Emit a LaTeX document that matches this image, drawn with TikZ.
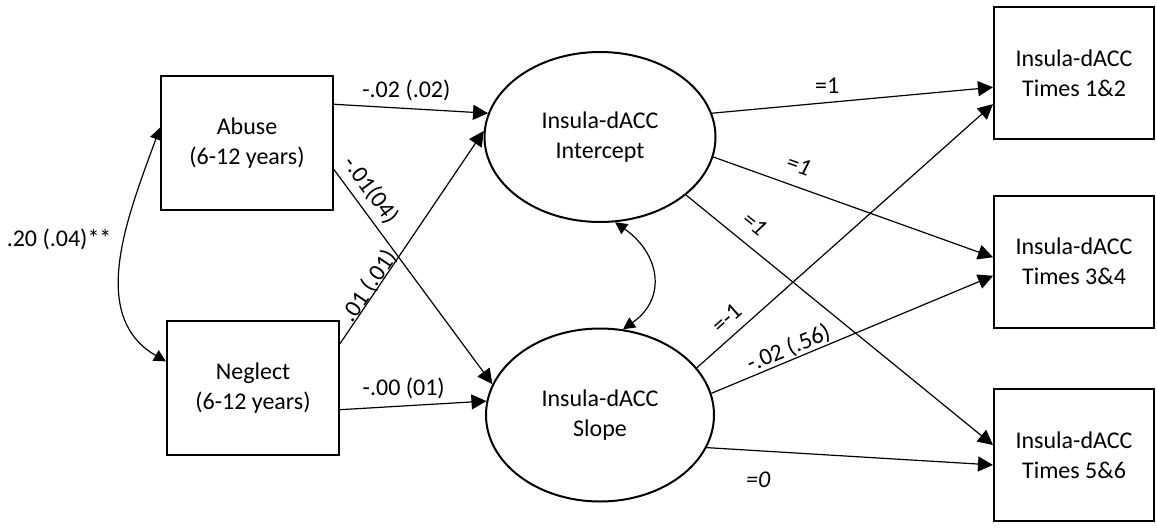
\documentclass[tikz,border=0pt]{standalone}
\usepackage{fontspec}
\setmainfont{Carlito}
\usetikzlibrary{shapes.geometric,arrows.meta}

\tikzset{
	obs/.style={draw, line width=1pt, align=center, minimum width=86pt, minimum height=67pt},
	occ/.style={draw, line width=1pt, align=center, minimum width=80pt, minimum height=66pt},
	lat/.style={draw, ellipse, line width=1pt, align=center, inner sep=0pt},
	reg/.style={->, line width=0.6pt},
	cov/.style={<->, line width=0.6pt, >={Triangle[length=6pt,width=6pt]}}
}

\begin{document}
\begin{tikzpicture}[x=0.5pt, y=0.5pt, font=\fontsize{12}{15}\selectfont, >={Triangle[length=7.5pt,width=7.5pt]}]
	\useasboundingbox (0,0) rectangle (1157,527);
	\node[obs] (abuse) at (247,384) {Abuse\\(6-12 years)};
	\node[obs] (neglect) at (253,139) {Neglect\\(6-12 years)};
	\node[lat, minimum width=115.5pt, minimum height=85pt] (intercept) at (600,390) {Insula-dACC\\Intercept};
	\node[lat, minimum width=114pt, minimum height=86.5pt] (slope) at (600,112) {Insula-dACC\\Slope};
	\node[occ] (t12) at (1074,454) {Insula-dACC\\Times 1\&2};
	\node[occ] (t34) at (1074,265.5) {Insula-dACC\\Times 3\&4};
	\node[occ] (t56) at (1074,72) {Insula-dACC\\Times 5\&6};
	\draw[cov] (abuse.170) to[out=250, in=150] node[pos=0.42, left=3pt] {.20 (.04)**} (neglect.163);
	\draw[cov] (intercept.280) to[out=-35, in=35, looseness=1.3] (slope.75);
	\draw[reg] (abuse.24) -- node[pos=0.47, above] {-.02 (.02)} (intercept.168);
	\draw[reg] (abuse.-17) -- node[pos=0.145, sloped, above] {-.01(04)} (slope.164);
	\draw[reg] (neglect.27) -- node[pos=0.25, sloped, above=-5pt] {.01 (.01)} (intercept.177);
	\draw[reg] (neglect.-14) -- node[pos=0.435, above] {-.00 (01)} (slope.173);
	\draw[reg] (intercept.12) -- node[pos=0.41, above=1pt] {=1} (t12.190);
	\draw[reg] (intercept.-10) -- node[pos=0.28, sloped, above=3pt] {\textit{=1}} (t34.177);
	\draw[reg] (intercept.-34) -- node[pos=0.18, sloped, above=3pt] {\textit{=1}} (t56.173);
	\draw[reg] (slope.26) -- node[pos=0.14, sloped, above=1pt] {=-1} (t12.201);
	\draw[reg] (slope.11) -- node[pos=0.29, sloped, above=-3pt] {-.02 (.56)} (t34.190);
	\draw[reg] (slope.-17) -- node[pos=0.18, below=7pt] {\textit{=0}} (t56.187);
\end{tikzpicture}
\end{document}
